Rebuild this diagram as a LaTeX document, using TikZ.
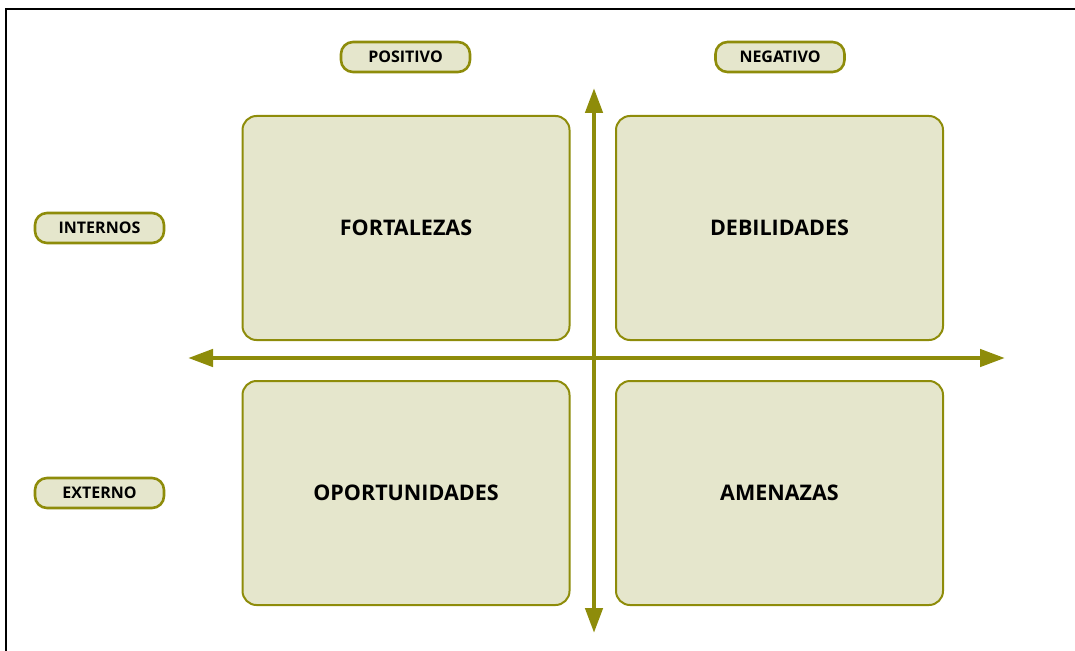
\documentclass[tikz,border=0pt]{standalone}
\usepackage{fontspec}
\setmainfont{Open Sans}
\usepackage{xcolor}
\usetikzlibrary{arrows.meta}

\definecolor{olive}{HTML}{8E8C0A}
\definecolor{pale}{HTML}{E5E6CC}

\tikzset{
    quadrant/.style={draw=olive, fill=pale, line width=2pt, rounded corners=14pt,
        minimum width=327pt, minimum height=224pt,
        font=\fontsize{21.5}{25}\selectfont\bfseries},
    tag/.style={draw=olive, fill=pale, line width=2.6pt, rounded corners=12pt,
        minimum width=129pt, minimum height=30pt,
        font=\fontsize{16}{19}\selectfont\bfseries},
    axis/.style={draw=olive, line width=4.5pt,
        {Triangle[length=25pt,width=17pt]}-{Triangle[length=25pt,width=17pt]}}
}

\begin{document}
\begin{tikzpicture}[x=1pt, y=-1pt]
        \useasboundingbox (0,0) rectangle (1075,650);
        \clip (0,0) rectangle (1075,650);
        % frame
        \draw[line width=2.5pt] (6,9) rectangle (1090,670);

        % column and row tags
        \node[tag] (positivo) at (405.5, 57) {POSITIVO};
        \node[tag] (negativo) at (780, 57) {NEGATIVO};
        \node[tag] (internos) at (99.5, 228) {INTERNOS};
        \node[tag] (externo) at (99.5, 493) {EXTERNO};

        % quadrants
        \node[quadrant] (fortalezas) at (406, 228) {FORTALEZAS};
        \node[quadrant] (debilidades) at (779.5, 228) {DEBILIDADES};
        \node[quadrant] (oportunidades) at (406, 493) {OPORTUNIDADES};
        \node[quadrant] (amenazas) at (779.5, 493) {AMENAZAS};

        % axes
        \coordinate (axW) at (188, 358);
        \coordinate (axE) at (1005, 358);
        \coordinate (axN) at (594, 88);
        \coordinate (axS) at (594, 633);
        \draw[axis] (axW) -- (axE);
        \draw[axis] (axN) -- (axS);
    \end{tikzpicture}
\end{document}
